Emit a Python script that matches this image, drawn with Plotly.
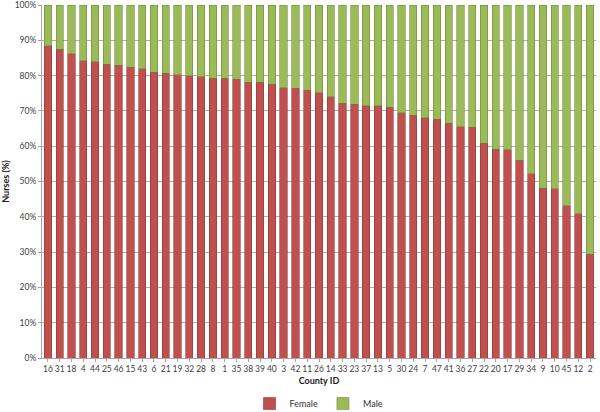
import plotly.graph_objects as go

county_ids = ["16","31","18","4","44","25","46","15","43","6","21","19","32","28","8","1","35","38","39","40","3","42",
              "11","26","14","33","23","37","13","5","30","24","7","47","41","36","27","22","20","17","29","34","9","10","45","12","2"]
female_pct = [88.4,87.5,86.2,84.2,83.9,83.2,82.9,82.3,82.0,81.0,80.7,80.3,80.0,79.7,79.2,79.2,78.9,78.1,78.1,77.5,76.6,76.4,
              75.9,75.1,74.0,72.1,71.9,71.5,71.4,71.0,69.5,68.7,68.1,67.7,66.5,65.5,65.3,60.9,59.2,59.0,56.0,52.2,48.1,47.9,43.2,40.9,29.4]
male_pct = [round(100 - f, 1) for f in female_pct]
y_ticks = [0, 10, 20, 30, 40, 50, 60, 70, 80, 90, 100]
y_tick_text = [f"{v}%" for v in y_ticks]

font_family = "Lato, Open Sans, Liberation Sans, sans-serif"

fig = go.Figure()
fig.add_trace(go.Bar(x=county_ids, y=female_pct, name="Female",
                     marker=dict(color="#C0504D", line=dict(color="#8E3936", width=0.6))))
fig.add_trace(go.Bar(x=county_ids, y=male_pct, name="Male",
                     marker=dict(color="#9BBB59", line=dict(color="#6F8A3C", width=0.6))))

fig.update_layout(
    barmode="stack",
    bargap=0.38,
    width=600, height=412,
    margin=dict(l=42, r=4, t=5, b=54, autoexpand=False),
    paper_bgcolor="white", plot_bgcolor="white",
    font=dict(family=font_family, size=9, color="#404040"),
    legend=dict(orientation="h", x=0.5, xanchor="center", y=-0.088, yanchor="top",
                font=dict(size=9, color="#333333"), itemwidth=30, traceorder="normal",
                tracegroupgap=0, bgcolor="rgba(0,0,0,0)"),
    showlegend=True,
)
fig.update_xaxes(type="category", title=dict(text="<b>County ID</b>", font=dict(size=9, color="#222222"), standoff=4),
                 showline=True, linecolor="#A6A6A6", ticks="outside", ticklen=3, tickcolor="#A6A6A6",
                 tickfont=dict(size=8.5, color="#404040"), tickangle=0, automargin=False)
fig.update_yaxes(range=[0, 100], tickvals=y_ticks, ticktext=y_tick_text,
                 title=dict(text="<b>Nurses (%)</b>", font=dict(size=9, color="#222222"), standoff=6),
                 showgrid=True, gridcolor="#B0B0B0", gridwidth=1,
                 showline=True, linecolor="#A6A6A6", ticks="outside", ticklen=3, tickcolor="#A6A6A6",
                 tickfont=dict(size=8.5, color="#404040"), zeroline=False, automargin=False,
                 ticklabeloverflow="allow")

fig.write_html("out.html", config={"displayModeBar": False},
               post_script="document.body.style.margin='0';document.body.style.overflow='hidden';")
